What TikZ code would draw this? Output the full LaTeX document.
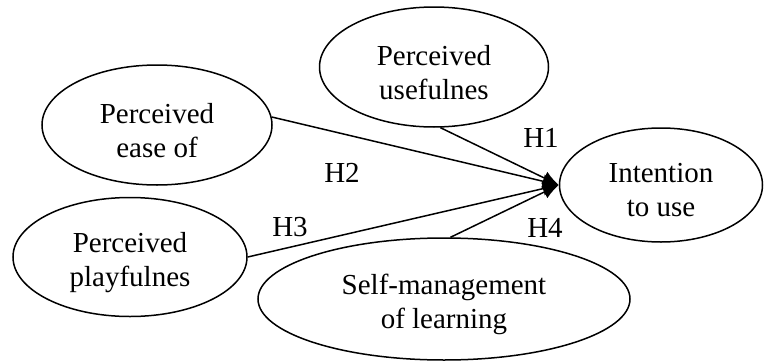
\documentclass[tikz,border=0pt]{standalone}
\usepackage{fontspec}
\setmainfont{Liberation Serif}
\usetikzlibrary{shapes.geometric,arrows.meta}
\begin{document}
\begin{tikzpicture}[x=1pt,y=-1pt,
  constr/.style={draw,line width=1.5pt,ellipse,inner sep=0pt},
  ctext/.style={align=center,inner sep=0pt,yshift=-5.5pt,
    font=\fontsize{29}{34}\selectfont},
  hyp/.style={font=\fontsize{29}{34}\selectfont,inner sep=0pt},
  link/.style={line width=1.5pt,-{Latex[length=16pt,width=14pt]}}]
\useasboundingbox (0,0) rectangle (764,362);
\node[constr,minimum width=229pt,minimum height=120pt] (useful) at (434,67) {};
\node[constr,minimum width=230pt,minimum height=120pt] (ease) at (157,125) {};
\node[constr,minimum width=234pt,minimum height=119pt] (play) at (130,257) {};
\node[constr,minimum width=372pt,minimum height=122pt] (self) at (444,299) {};
\node[constr,minimum width=203pt,minimum height=114pt] (intent) at (661,185) {};
\node[ctext] (usefulT) at (useful.center) {Perceived\\usefulnes};
\node[ctext] (easeT) at (ease.center) {Perceived\\ease of};
\node[ctext] (playT) at (play.center) {Perceived\\playfulnes};
\node[ctext] (selfT) at (self.center) {Self-management\\of learning};
\node[ctext] (intentT) at (intent.center) {Intention\\to use};
\coordinate (tip) at (intent.west);
\draw[link] (useful.-84) -- (tip);
\draw[link] (ease.4) -- (tip);
\draw[link] (play.east) -- (tip);
\draw[link] (self.84) -- (tip);
\node[hyp] (h1) at (541,138) {H1};
\node[hyp] (h2) at (342,173) {H2};
\node[hyp] (h3) at (290,227) {H3};
\node[hyp] (h4) at (545,228) {H4};
\end{tikzpicture}
\end{document}
